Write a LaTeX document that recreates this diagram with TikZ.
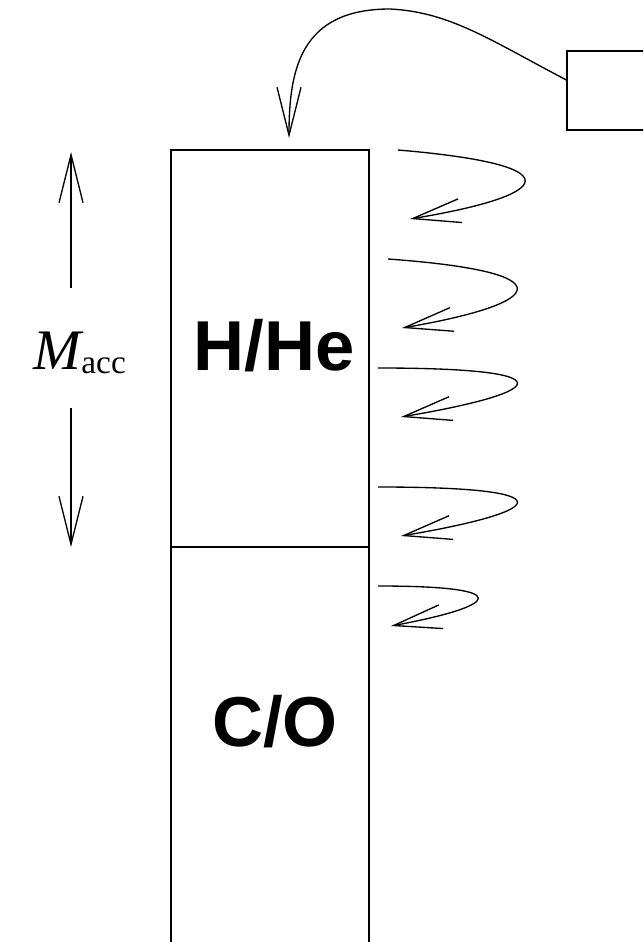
\documentclass[tikz,border=0pt]{standalone}
\usepackage{fontspec}
\usepackage{tikz}
\usetikzlibrary{positioning}
\usetikzlibrary{arrows.meta}

\newfontfamily\layerfont{Liberation Sans}
\newfontfamily\labelfont{Liberation Serif}

\tikzset{
    layer/.style={font=\layerfont\bfseries\fontsize{53}{58}\selectfont, anchor=base, inner sep=0pt},
    flow/.style={line width=1pt, ->},
    >={Straight Barb[length=36pt,width=18pt]}
}

\begin{document}
\begin{tikzpicture}[x=0.75pt, y=-0.75pt, line width=1pt]
    \useasboundingbox (0,0) rectangle (643,942);
    \clip (0,0) rectangle (643,942);
    % star column
    \draw (171,547) rectangle (369,150);
    \draw (171,547) rectangle (369,960);
    \node[layer] (hhe) at (274,370) {H/He};
    \node[layer] (co) at (275,746) {C/O};
    % source box, top right
    \node[draw, minimum width=75pt, minimum height=59.25pt] (src) at (617,90.5) {};
    \coordinate (drop) at (289,138);
    \draw[flow] ([yshift=7.9pt]src.west) .. controls (490,40) and (450,12) .. (390,9)
        .. controls (300,9) and (289,70) .. (drop);
    % accreted mass
    \node[anchor=base west, inner sep=0pt] (macc) at (33,369)
        {\labelfont\fontsize{43}{47}\selectfont\itshape M\upshape\fontsize{25}{29}\selectfont\raisebox{-3pt}{acc}};
    \coordinate (mtop) at (71,288);
    \coordinate (mbot) at (71,408);
    \coordinate (mup) at (71,152);
    \coordinate (mdown) at (71,547);
    \draw[flow] (mtop) -- (mup);
    \draw[flow] (mbot) -- (mdown);
    % curly flows
    \foreach \sx/\sy/\ax/\ay/\bx/\by/\ex/\ey in {
        398/150/575/165/555/195/410/219,
        388/259/567/272/548/303/402/328,
        378/368/570/368/549/392/401/417,
        378/487/570/487/549/511/401/536,
        378/586/519/586/499/606/391/626}
        \draw[flow] (\sx,\sy) .. controls (\ax,\ay) and (\bx,\by) .. (\ex,\ey);
\end{tikzpicture}
\end{document}
